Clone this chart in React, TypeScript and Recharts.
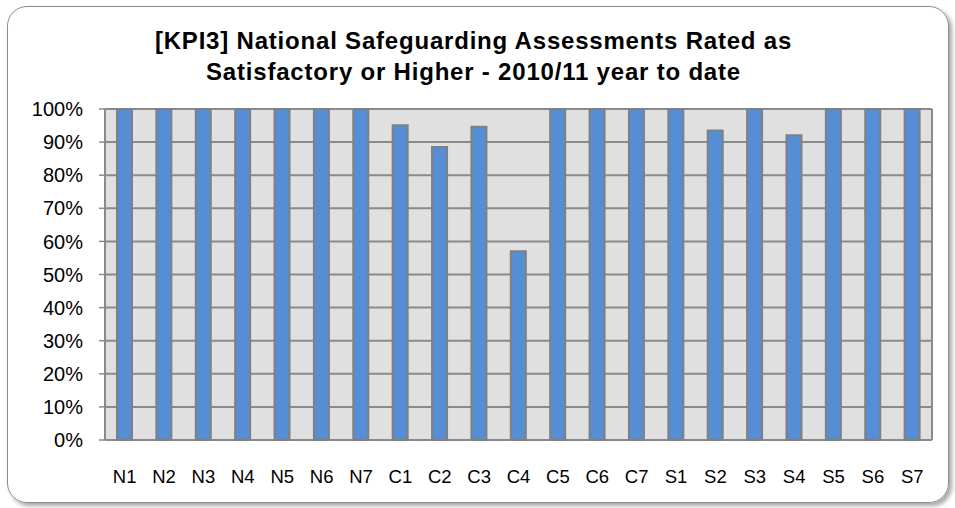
import { BarChart, Bar, XAxis, YAxis, CartesianGrid } from "recharts";

const CATEGORIES = [
  "N1", "N2", "N3", "N4", "N5", "N6", "N7",
  "C1", "C2", "C3", "C4", "C5", "C6", "C7",
  "S1", "S2", "S3", "S4", "S5", "S6", "S7",
];
const RATED = [
  1, 1, 1, 1, 1, 1, 1,
  0.951, 0.885, 0.946, 0.57, 1, 1, 1,
  1, 0.935, 1, 0.921, 1, 1, 1,
];
const Y_TICKS = [0, 0.1, 0.2, 0.3, 0.4, 0.5, 0.6, 0.7, 0.8, 0.9, 1];
// category boundaries (Excel draws ticks and gridlines between the bars)
const BOUNDS = Array.from({ length: CATEGORIES.length + 1 }, (_, i) => i);

const data = CATEGORIES.map((name, i) => ({ name, value: RATED[i] }));

const FONT = "'Liberation Sans', Arial, sans-serif";
const GRID = "#8a8a8a";

export default function App() {
  return (
    <div style={{ position: "absolute", left: 0, top: 0, width: 955, height: 508, background: "#fff", fontFamily: FONT }}>
      <div
        style={{
          position: "absolute", left: 7, top: 6, width: 942, height: 497,
          border: "1.5px solid #8c8c8c", borderRadius: 20, boxSizing: "border-box",
          boxShadow: "3px 3px 4px rgba(0,0,0,0.35)",
        }}
      />
      <div
        style={{
          position: "absolute", left: 0, top: 25, width: 947, textAlign: "center",
          fontSize: 24, fontWeight: "bold", lineHeight: "31px", letterSpacing: 0.8, color: "#000",
        }}
      >
        [KPI3] National Safeguarding Assessments Rated as
        <br />
        Satisfactory or Higher - 2010/11 year to date
      </div>
      <div style={{ position: "absolute", left: 0, top: 0 }}>
        <BarChart width={955} height={508} data={data} margin={{ top: 109, right: 23, bottom: 28, left: 0 }}>
          <CartesianGrid xAxisId="bound" fill="#e0e0e0" stroke={GRID} strokeWidth={2} />
          <XAxis
            xAxisId="bound"
            type="number"
            domain={[0, CATEGORIES.length]}
            ticks={BOUNDS}
            tick={false}
            height={0}
            tickSize={7}
            axisLine={{ stroke: GRID, strokeWidth: 2 }}
            tickLine={{ stroke: GRID, strokeWidth: 1.5 }}
          />
          <XAxis
            xAxisId="cat"
            dataKey="name"
            height={40}
            axisLine={false}
            tickLine={false}
            tickSize={0}
            tickMargin={30}
            interval={0}
            tick={{ fill: "#000", fontSize: 18.5, fontFamily: FONT }}
          />
          <YAxis
            domain={[0, 1]}
            ticks={Y_TICKS}
            width={105}
            tickSize={6}
            tickMargin={16}
            tickFormatter={(v: number) => `${Math.round(v * 100)}%`}
            axisLine={{ stroke: GRID, strokeWidth: 2 }}
            tickLine={{ stroke: GRID, strokeWidth: 1.5 }}
            tick={{ fill: "#000", fontSize: 20, fontFamily: FONT }}
          />
          <Bar xAxisId="cat" dataKey="value" fill="#558ed5" stroke="#808080" strokeWidth={2} barSize={15} isAnimationActive={false} />
        </BarChart>
      </div>
    </div>
  );
}
